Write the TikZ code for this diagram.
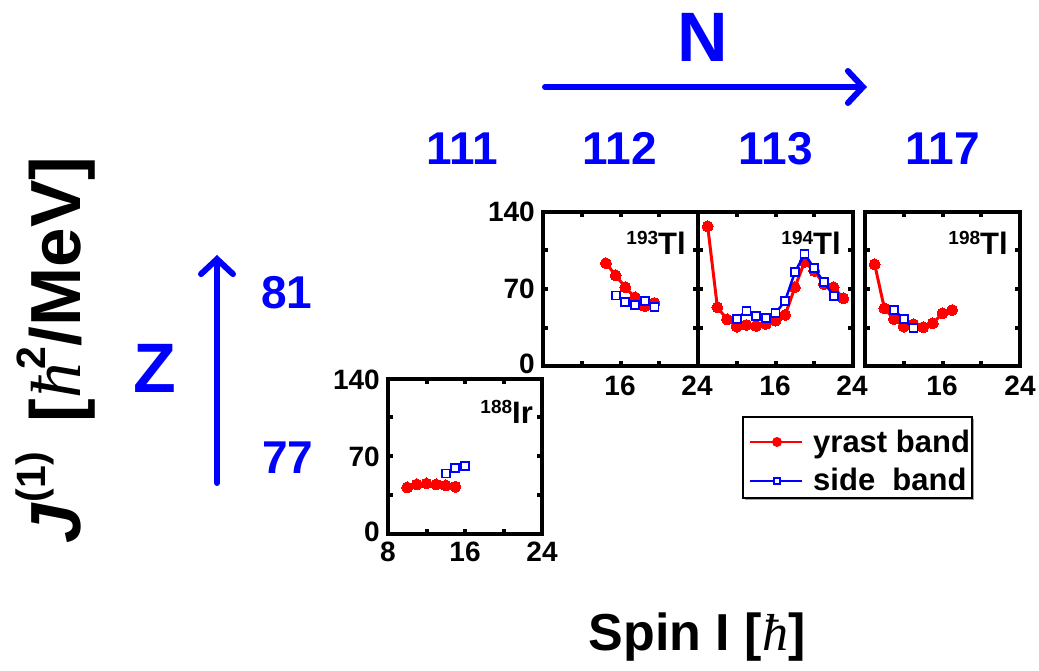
\documentclass[tikz,border=0pt]{standalone}
\usepackage{fontspec}
\setmainfont{Liberation Sans}
\newfontfamily\hbarfont{Liberation Serif}
\usetikzlibrary{positioning}
\usetikzlibrary{arrows.meta}
\usetikzlibrary{plotmarks}
\newcommand{\hb}{{\hbarfont\mdseries\itshape ħ}}
\tikzset{
    panelframe/.style = {line width=4pt, black},
    ticklabel/.style = {font=\fontsize{28}{28}\selectfont\bfseries, text=black, inner sep=0pt},
    nucleus/.style = {font=\fontsize{31}{31}\selectfont\bfseries, text=black, anchor=base east, inner sep=0pt},
    bignum/.style = {font=\fontsize{46}{46}\selectfont\bfseries, text=blue, inner sep=0pt, anchor=base},
    bigletter/.style = {font=\fontsize{70}{70}\selectfont\bfseries, text=blue, inner sep=0pt, anchor=base},
    axislabel/.style = {font=\fontsize{52}{52}\selectfont\bfseries, text=black, inner sep=0pt, anchor=base},
    yaxislabel/.style = {font=\fontsize{71}{71}\selectfont\bfseries, text=black, inner sep=0pt, anchor=base, rotate=90},
    legtext/.style = {font=\fontsize{31}{31}\selectfont\bfseries, text=black, inner sep=0pt, anchor=base west},
    yrast/.style = {red, line width=3pt, mark=*, mark size=5.5pt, mark options={fill=red, draw=red, line width=0pt}},
    side/.style = {blue, line width=2.5pt, mark=square*, mark size=4pt, mark options={fill=white, draw=blue, line width=1.8pt}},
    yrastdot/.style = {circle, fill=red, inner sep=0pt, minimum size=10pt},
    sidebox/.style = {rectangle, draw=blue, fill=white, line width=1.5pt, inner sep=0pt, minimum size=6pt},
    bluearrow/.style = {blue, line width=6pt, line cap=round, -{Straight Barb[length=15pt, width=32pt, line cap=round]}},
}
% frame and inward ticks of one panel, in data units (I from 8 to 24, J from 0 to 140)
\newcommand{\panelbox}{%
    \draw[panelframe] (8,0) rectangle (24,140);
    \foreach \t in {12,16,20} {
        \draw[panelframe] (\t,0) -- ++(0pt,5pt);
        \draw[panelframe] (\t,140) -- ++(0pt,-5pt);
    }
    \foreach \t in {35,70,105} {
        \draw[panelframe] (8,\t) -- ++(5pt,0pt);
        \draw[panelframe] (24,\t) -- ++(-5pt,0pt);
    }
}

\begin{document}
\begin{tikzpicture}[x=1pt, y=-1pt]
\path[use as bounding box] (0,0) rectangle (1039,671);

% axis titles
\node[yaxislabel] (ylab) at (80,350) {\textit{J}\raisebox{35pt}{\fontsize{41}{41}\selectfont (1)}\hspace{30pt}[\hb\kern-6pt\raisebox{35pt}{\fontsize{41}{41}\selectfont 2}/MeV]};
\node[axislabel] (xlab) at (697,650) {Spin I [\hb]};

% N and Z arrows
\node[bigletter] (nlab) at (703,62) {N};
\coordinate (nstart) at (545,87);
\coordinate (nend) at (867,87);
\draw[bluearrow] (nstart) -- (nend);
\node[bigletter] (zlab) at (155,392) {Z};
\coordinate (zstart) at (217,483);
\coordinate (zend) at (217,255);
\draw[bluearrow] (zstart) -- (zend);

\node[bignum] (n111) at (462,165) {111};
\node[bignum] (n112) at (620,165) {112};
\node[bignum] (n113) at (776,165) {113};
\node[bignum] (n117) at (943,165) {117};
\node[bignum] (z81) at (287,308) {81};
\node[bignum] (z77) at (288,473) {77};

% 188Ir
\begin{scope}[shift={(311,534)}, x=9.625pt, y=1.11pt]
\panelbox
\node[nucleus] (ir) at (23.07,100) {\raisebox{10pt}{\fontsize{19}{19}\selectfont 188}Ir};
\draw[yrast] plot coordinates {(10,41.9) (11,44.6) (12,45.5) (13,44.6) (14,43.7) (15,42.5)};
\draw[side] plot coordinates {(14,54.5) (15,59.5) (16,61)};
\end{scope}
\node[ticklabel, anchor=east] (iry140) at (380,380) {140};
\node[ticklabel, anchor=east] (iry70) at (380,457) {70};
\node[ticklabel, anchor=east] (iry0) at (380,532) {0};
\node[ticklabel] (irx8) at (388,552) {8};
\node[ticklabel] (irx16) at (465,552) {16};
\node[ticklabel] (irx24) at (542,552) {24};

% 193Tl
\begin{scope}[shift={(465.5,366)}, x=9.6875pt, y=1.1pt]
\panelbox
\node[nucleus] (tla) at (22.75,101.8) {\raisebox{10pt}{\fontsize{19}{19}\selectfont 193}Tl};
\draw[yrast] plot coordinates {(14.5,93.4) (15.5,82.4) (16.5,71.5) (17.5,62.4) (18.5,54.5) (19.5,57.3)};
\draw[side] plot coordinates {(15.5,64) (16.5,58) (17.5,55.7) (18.5,59.4) (19.5,53.3)};
\end{scope}
\node[ticklabel, anchor=east] (tlay140) at (535,212) {140};
\node[ticklabel, anchor=east] (tlay70) at (535,289) {70};
\node[ticklabel, anchor=east] (tlay0) at (535,364) {0};
\node[ticklabel] (tlax16) at (620,386) {16};
\node[ticklabel] (tlax24) at (697,386) {24};

% 194Tl
\begin{scope}[shift={(620.5,366)}, x=9.6875pt, y=1.1pt]
\panelbox
\node[nucleus] (tlb) at (22.75,101.8) {\raisebox{10pt}{\fontsize{19}{19}\selectfont 194}Tl};
\draw[yrast] plot coordinates {(9,127) (10,53.4) (11,42.4) (12,35.8) (13,37.3) (14,36.4) (15,38.2) (16,41.2) (17,46.4) (18,71.5) (19,94.8) (20,86.4) (21,74.5) (22,71.5) (23,61.5)};
\draw[side] plot coordinates {(12,42.7) (13,50.3) (14,45.8) (15,43.3) (16,47.9) (17,59.4) (18,85.2) (19,101.8) (20,88.8) (21,76.1) (22,63.9)};
\end{scope}
\node[ticklabel] (tlbx16) at (775,386) {16};
\node[ticklabel] (tlbx24) at (852,386) {24};

% 198Tl
\begin{scope}[shift={(787.5,366)}, x=9.6875pt, y=1.1pt]
\panelbox
\node[nucleus] (tlc) at (22.75,101.8) {\raisebox{10pt}{\fontsize{19}{19}\selectfont 198}Tl};
\draw[yrast] plot coordinates {(9,92.4) (10,52.4) (11,42.7) (12,35.8) (13,37.9) (14,35.2) (15,38.8) (16,47.9) (17,50.9)};
\draw[side] plot coordinates {(11,50.9) (12,42.7) (13,34.2)};
\end{scope}
\node[ticklabel] (tlcx16) at (942,386) {16};
\node[ticklabel] (tlcx24) at (1020,386) {24};

% legend
\node[fill=black!35, minimum width=229pt, minimum height=81pt, inner sep=0pt] (legshadow) at (859.5,459.5) {};
\node[draw=black, line width=1.2pt, fill=white, minimum width=229pt, minimum height=81pt, inner sep=0pt] (legbox) at (857.5,457.5) {};
\coordinate (ya) at (750,442);
\coordinate (yb) at (802,442);
\draw[red, line width=2.5pt] (ya) -- (yb);
\node[yrastdot] (ydot) at (777,442) {};
\node[legtext] (ytext) at (813,452) {yrast band};
\coordinate (sa) at (750,481);
\coordinate (sb) at (802,481);
\draw[blue, line width=2.5pt] (sa) -- (sb);
\node[sidebox] (sdot) at (777,481) {};
\node[legtext] (stext) at (813,490) {side\ \ band};
\end{tikzpicture}
\end{document}
